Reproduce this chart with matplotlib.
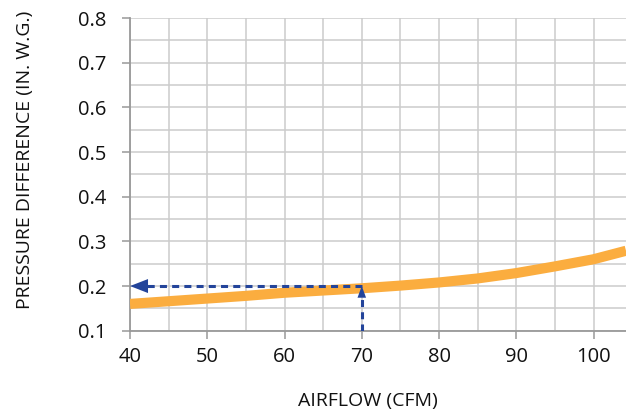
import matplotlib
matplotlib.use("Agg")
import matplotlib.pyplot as plt
import numpy as np

plt.rcParams['font.family'] = ['Open Sans', 'DejaVu Sans']

# Data
airflow = [40, 45, 50, 55, 60, 65, 70, 75, 80, 85, 90, 95, 100, 104.2]
pressure = [0.160, 0.166, 0.172, 0.178, 0.185, 0.190, 0.195, 0.201, 0.208, 0.217,
            0.229, 0.244, 0.260, 0.279]
op_airflow = 70
op_pressure = 0.2
x_ticks = [40, 50, 60, 70, 80, 90, 100]
y_ticks = [0.1, 0.2, 0.3, 0.4, 0.5, 0.6, 0.7, 0.8]

fig = plt.figure(figsize=(6.26, 4.2), dpi=100)
ax = fig.add_axes([0.2077, 0.2126, 0.7923, 0.7444])

ax.set_xlim(40, 104.2)
ax.set_ylim(0.1, 0.8)
ax.set_xticks(x_ticks)
ax.set_yticks(y_ticks)
ax.set_yticklabels([f"{v:.1f}" for v in y_ticks])
ax.set_xticks(np.arange(45, 104, 10), minor=True)
ax.set_yticks(np.arange(0.15, 0.8, 0.1), minor=True)
ax.grid(True, which='both', color='#cccccc', linewidth=1.1, zorder=0)
ax.tick_params(which='minor', length=0)
ax.tick_params(which='major', direction='out', length=6, width=1.1, color='#999999',
               labelsize=14.5, labelcolor='#111111')
ax.tick_params(axis='y', pad=11)
ax.tick_params(axis='x', pad=6)

for s in ['top', 'right']:
    ax.spines[s].set_visible(False)
for s in ['left', 'bottom']:
    ax.spines[s].set_color('#999999')
    ax.spines[s].set_linewidth(1.3)

ax.plot(airflow, pressure, color='#FBAD3F', linewidth=7.3, solid_capstyle='butt',
        solid_joinstyle='round', zorder=3)

blue = '#23449a'
ax.plot([op_airflow, 42], [op_pressure, op_pressure], color=blue, lw=2.2,
        ls=(0, (2.3, 1.7)), zorder=4)
ax.plot([op_airflow, op_airflow], [0.1, 0.185], color=blue, lw=2.2,
        ls=(0, (2.3, 1.7)), zorder=4)
ax.annotate('', xy=(40, op_pressure), xytext=(44, op_pressure),
            arrowprops=dict(arrowstyle='-|>,head_length=0.72,head_width=0.28', color=blue,
                            lw=0, mutation_scale=18, shrinkA=0, shrinkB=0), zorder=5)
ax.annotate('', xy=(op_airflow, 0.2), xytext=(op_airflow, 0.17),
            arrowprops=dict(arrowstyle='-|>,head_length=0.6,head_width=0.22', color=blue,
                            lw=0, mutation_scale=14, shrinkA=0, shrinkB=0), zorder=5)

fig.text(0.587, 0.045, 'AIRFLOW (CFM)', ha='center', va='center', fontsize=14,
         color='#111111')
fig.text(0.040, 0.619, 'PRESSURE DIFFERENCE (IN. W.G.)', rotation=90, ha='center',
         va='center', fontsize=14, color='#111111')

fig.savefig('out.png', dpi=100)
